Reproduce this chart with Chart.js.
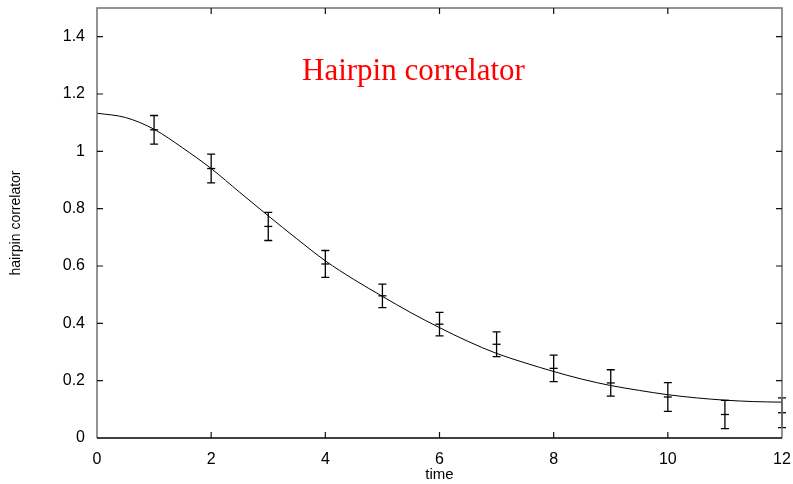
<!DOCTYPE html>
<html>
<head>
<meta charset="utf-8">
<script src="https://cdn.jsdelivr.net/npm/chart.js@4"></script>
<style>
  html, body { margin: 0; padding: 0; background: #fff; }
  #wrap { width: 793px; height: 484px; }
</style>
</head>
<body>
<div id="wrap"><canvas id="chart"></canvas></div>
<script>
// measured points with errors
const times = [1, 2, 3, 4, 5, 6, 7, 8, 9, 10, 11, 12];
const values = [1.075, 0.94, 0.738, 0.607, 0.496, 0.397, 0.327, 0.243, 0.192, 0.143, 0.082, 0.088];
const errors = [0.05, 0.05, 0.049, 0.047, 0.041, 0.041, 0.043, 0.046, 0.046, 0.05, 0.049, 0.052];

// fit curve
const fitTimes = [0, 0.5, 1, 1.5, 2, 2.5, 3, 3.5, 4, 4.5, 5, 5.5, 6, 6.5, 7, 7.5, 8, 8.5, 9, 9.5, 10, 10.5, 11, 11.5, 12];
const fitValues = [1.133, 1.118, 1.077, 1.012, 0.94, 0.857, 0.775, 0.695, 0.618, 0.553, 0.494, 0.437, 0.385, 0.337, 0.295, 0.262, 0.232, 0.205, 0.183, 0.166, 0.151, 0.14, 0.132, 0.127, 0.125];

const xTicks = [0, 2, 4, 6, 8, 10, 12];
const yTicks = [0, 0.2, 0.4, 0.6, 0.8, 1, 1.2, 1.4];

const frameAndBars = {
  id: 'frameAndBars',
  afterDatasetsDraw(chart) {
    const { ctx, scales: { x, y } } = chart;
    ctx.save();
    // error bars
    ctx.strokeStyle = '#000';
    ctx.lineWidth = 1.3;
    times.forEach((t, i) => {
      const px = x.getPixelForValue(t);
      const top = y.getPixelForValue(values[i] + errors[i]);
      const bot = y.getPixelForValue(values[i] - errors[i]);
      ctx.beginPath();
      ctx.moveTo(px, top); ctx.lineTo(px, bot);
      ctx.moveTo(px - 4, top); ctx.lineTo(px + 4, top);
      ctx.moveTo(px - 4, bot); ctx.lineTo(px + 4, bot);
      ctx.stroke();
    });
    ctx.restore();
  },
  afterDraw(chart) {
    const { ctx, chartArea: a, scales: { x, y } } = chart;
    ctx.save();
    ctx.lineWidth = 1.5;
    ctx.strokeStyle = '#707070';
    ctx.beginPath();
    ctx.moveTo(a.left, a.bottom); ctx.lineTo(a.left, a.top);
    ctx.lineTo(a.right, a.top); ctx.lineTo(a.right, a.bottom);
    ctx.stroke();
    ctx.strokeStyle = '#000';
    ctx.beginPath();
    ctx.moveTo(a.left, a.bottom); ctx.lineTo(a.right, a.bottom);
    ctx.stroke();
    // inward ticks
    ctx.lineWidth = 1.2;
    ctx.strokeStyle = '#111';
    ctx.beginPath();
    xTicks.slice(1, -1).forEach(v => {
      const px = x.getPixelForValue(v);
      ctx.moveTo(px, a.bottom); ctx.lineTo(px, a.bottom - 6);
      ctx.moveTo(px, a.top); ctx.lineTo(px, a.top + 6);
    });
    yTicks.slice(1).forEach(v => {
      const py = y.getPixelForValue(v);
      ctx.moveTo(a.left, py); ctx.lineTo(a.left + 6, py);
      ctx.moveTo(a.right, py); ctx.lineTo(a.right - 6, py);
    });
    ctx.stroke();
    // title inside the plot
    ctx.fillStyle = '#ff0000';
    ctx.font = '31px "Liberation Serif", "Times New Roman", serif';
    ctx.textBaseline = 'alphabetic';
    ctx.fillText('Hairpin correlator', 302, 80);
    ctx.restore();
  }
};

new Chart(document.getElementById('chart'), {
  type: 'scatter',
  data: {
    datasets: [
      {
        type: 'line',
        data: fitTimes.map((t, i) => ({ x: t, y: fitValues[i] })),
        borderColor: '#000',
        borderWidth: 1,
        pointRadius: 0,
        cubicInterpolationMode: 'monotone',
        fill: false
      },
      {
        data: times.map((t, i) => ({ x: t, y: values[i] })),
        pointStyle: 'line',
        pointRadius: 4,
        borderColor: '#000',
        borderWidth: 1.3,
        backgroundColor: '#000',
        clip: false
      }
    ]
  },
  options: {
    responsive: true,
    maintainAspectRatio: false,
    animation: false,
    layout: { padding: { left: 0, right: 11, top: 8, bottom: 0 } },
    plugins: { legend: { display: false }, tooltip: { enabled: false } },
    scales: {
      x: {
        type: 'linear',
        min: 0, max: 12,
        afterFit: s => { s.height = 46; s.paddingLeft = 0; s.paddingRight = 0; },
        grid: { display: false },
        border: { display: false },
        ticks: {
          stepSize: 2,
          padding: 4,
          color: '#000',
          font: { family: '"Liberation Sans", Arial, sans-serif', size: 16 }
        },
        title: {
          display: true,
          text: 'time',
          color: '#000',
          padding: 0,
          font: { family: '"Liberation Sans", Arial, sans-serif', size: 15 }
        }
      },
      y: {
        min: 0, max: 1.5,
        afterFit: s => { s.width = 97; s.paddingTop = 0; s.paddingBottom = 0; },
        grid: { display: false },
        border: { display: false },
        ticks: {
          stepSize: 0.2,
          includeBounds: false,
          padding: 4,
          color: '#000',
          callback: v => String(+v.toFixed(1)),
          font: { family: '"Liberation Sans", Arial, sans-serif', size: 16 }
        },
        title: {
          display: true,
          text: 'hairpin correlator',
          color: '#000',
          padding: { top: 8, bottom: 0 },
          font: { family: '"Liberation Sans", Arial, sans-serif', size: 14 }
        }
      }
    }
  },
  plugins: [frameAndBars]
});
</script>
</body>
</html>
